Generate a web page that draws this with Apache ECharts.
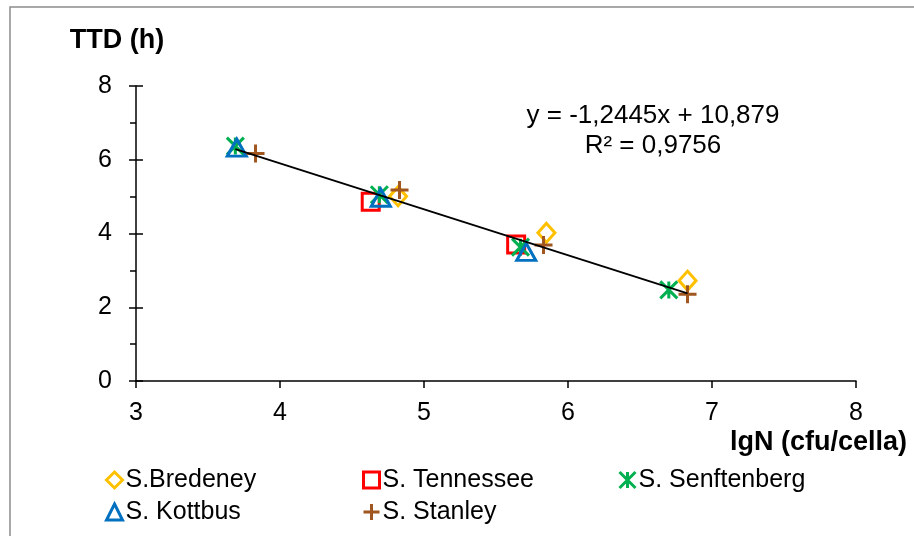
<!DOCTYPE html>
<html>
<head>
<meta charset="utf-8">
<script src="https://cdn.jsdelivr.net/npm/echarts@6/dist/echarts.min.js"></script>
<style>
  html, body { margin: 0; padding: 0; background: #fff; }
  #chart { width: 914px; height: 536px; }
</style>
</head>
<body>
<div id="chart"></div>
<script>
// Time to detection versus log cell count, per Salmonella strain
var seriesNames = ['S.Bredeney', 'S. Tennessee', 'S. Senftenberg', 'S. Kottbus', 'S. Stanley'];

// [lgN, TTD] pairs
var bredeney    = [[4.82, 5.01], [5.85, 4.02], [6.83, 2.72]];
var tennessee   = [[4.63, 4.86], [5.64, 3.70]];
var senftenberg = [[3.69, 6.37], [4.69, 5.05], [5.67, 3.63], [6.70, 2.47]];
var kottbus     = [[3.70, 6.33], [4.70, 4.97], [5.71, 3.50]];
var stanley     = [[3.83, 6.17], [4.83, 5.18], [5.83, 3.69], [6.83, 2.35]];

// Linear trend fitted over all strains
var trendSlope = -1.2445;
var trendIntercept = 10.879;
var trendR2 = 0.9756;

var xTicks = [3, 4, 5, 6, 7, 8];
var yTicks = [0, 2, 4, 6, 8];

var FONT = '"Liberation Sans", Arial, sans-serif';
var colors = ['#FFC000', '#FF0000', '#00B050', '#0070C0', '#A0561E'];
var symbols = [
  'diamond',
  'rect',
  'path://M0,0L10,10M10,0L0,10M5,0L5,10',
  'triangle',
  'path://M5,0L5,10M0,5L10,5'
];
var sizes = [[17, 19], [17, 17], [17, 17], [19, 17], [18, 18]];
var allData = [bredeney, tennessee, senftenberg, kottbus, stanley];

// Trend line spans the full range of measured lgN values
var allX = [];
allData.forEach(function (d) { d.forEach(function (p) { allX.push(p[0]); }); });
var xMin = Math.min.apply(null, allX), xMax = Math.max.apply(null, allX);
var trendData = [[xMin, trendSlope * xMin + trendIntercept], [xMax, trendSlope * xMax + trendIntercept]];

function fmt(v) { return String(v).replace('.', ','); }
var eqText = 'y = ' + fmt(trendSlope) + 'x + ' + fmt(trendIntercept);
var r2Text = 'R² = ' + fmt(trendR2);

var scatterSeries = seriesNames.map(function (name, i) {
  return {
    name: name,
    type: 'scatter',
    data: allData[i],
    symbol: symbols[i],
    symbolSize: sizes[i],
    itemStyle: { color: 'rgba(0,0,0,0)', borderColor: colors[i], borderWidth: 3, opacity: 1 },
    emphasis: { disabled: true },
    z: 3 + i
  };
});

var axisBase = {
  type: 'value',
  axisLine: { show: true, lineStyle: { color: '#000', width: 1.5 } },
  splitLine: { show: false },
  axisLabel: { color: '#000', fontSize: 25, fontFamily: FONT },
  axisTick: { show: true, length: 7, lineStyle: { color: '#000', width: 1.5 } }
};

function legendAt(left, data) {
  return {
    left: left, top: 462, orient: 'vertical', itemGap: 6,
    itemWidth: 16, itemHeight: 16, data: data,
    selectedMode: false,
    itemStyle: { borderWidth: 3, opacity: 1 },
    textStyle: { color: '#000', fontSize: 25, fontFamily: FONT, lineHeight: 26, padding: [0, 0, 0, -2] }
  };
}

var chart = echarts.init(document.getElementById('chart'));
chart.setOption({
  animation: false,
  backgroundColor: '#fff',
  grid: { left: 136, right: 58, top: 86, bottom: 155 },
  xAxis: [
    Object.assign({}, axisBase, {
      min: xTicks[0], max: xTicks[xTicks.length - 1], interval: 1,
      axisLabel: Object.assign({}, axisBase.axisLabel, { margin: 20 })
    }),
    Object.assign({}, axisBase, {
      min: xTicks[0], max: xTicks[xTicks.length - 1], interval: 1,
      axisLine: { show: false }, axisLabel: { show: false },
      axisTick: { show: true, inside: true, length: 7, lineStyle: { color: '#000', width: 1.5 } }
    })
  ],
  yAxis: [
    Object.assign({}, axisBase, {
      min: yTicks[0], max: yTicks[yTicks.length - 1], interval: 2,
      axisLabel: Object.assign({}, axisBase.axisLabel, { margin: 24 }),
      minorTick: { show: true, splitNumber: 2, length: 6, lineStyle: { color: '#000', width: 1.5 } }
    }),
    Object.assign({}, axisBase, {
      position: 'left',
      min: yTicks[0], max: yTicks[yTicks.length - 1], interval: 2,
      axisLine: { show: false }, axisLabel: { show: false },
      axisTick: { show: true, inside: true, length: 7, lineStyle: { color: '#000', width: 1.5 } }
    })
  ],
  legend: [
    legendAt(100, [seriesNames[0], seriesNames[3]]),
    legendAt(357, [seriesNames[1], seriesNames[4]]),
    legendAt(613, [seriesNames[2]])
  ],
  series: scatterSeries.concat([{
    name: 'trend',
    type: 'line',
    data: trendData,
    symbol: 'none',
    lineStyle: { color: '#000', width: 1.8 },
    emphasis: { disabled: true },
    z: 10
  }]),
  graphic: [
    { type: 'rect', shape: { x: 10, y: 7, width: 1000, height: 1000 },
      style: { fill: 'none', stroke: '#8c8c8c', lineWidth: 1.5 }, silent: true },
    { type: 'text', style: { text: 'TTD (h)', x: 117, y: 41, textAlign: 'center', textVerticalAlign: 'middle',
      font: 'bold 27px ' + FONT, fill: '#000' } },
    { type: 'text', style: { text: 'lgN (cfu/cella)', x: 907, y: 443, textAlign: 'right', textVerticalAlign: 'middle',
      font: 'bold 27px ' + FONT, fill: '#000' } },
    { type: 'text', style: { text: eqText, x: 653, y: 116, textAlign: 'center', textVerticalAlign: 'middle',
      font: '26px ' + FONT, fill: '#000' } },
    { type: 'text', style: { text: r2Text, x: 653, y: 146, textAlign: 'center', textVerticalAlign: 'middle',
      font: '26px ' + FONT, fill: '#000' } }
  ]
});
</script>
</body>
</html>
